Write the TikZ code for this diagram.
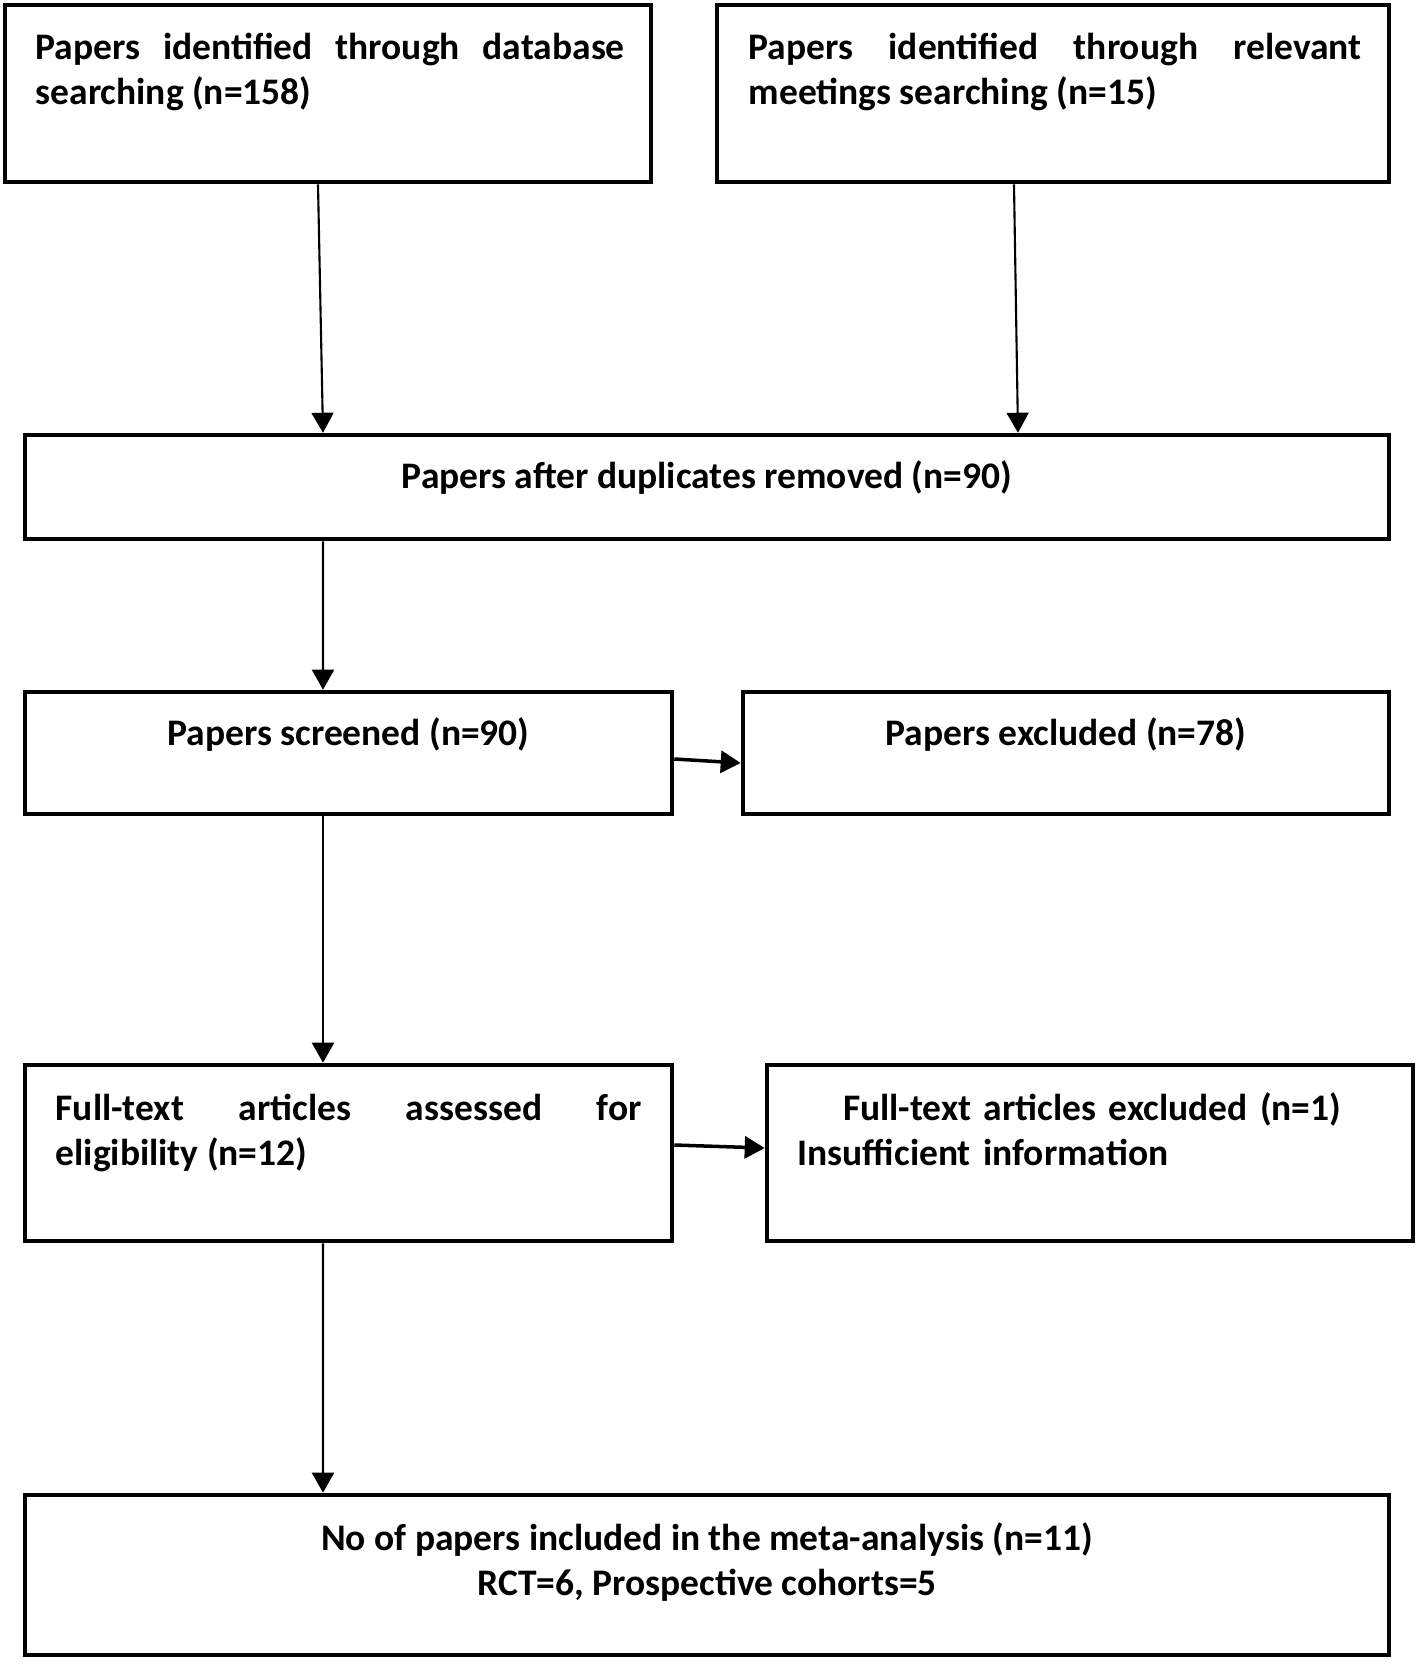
\documentclass[tikz,border=0pt]{standalone}
\usepackage{fontspec}
\setmainfont{Carlito}
\usetikzlibrary{arrows.meta,positioning,calc}

\begin{document}
\begin{tikzpicture}[
    box/.style={draw, line width=1.3pt, inner sep=0pt},
    txt/.style={inner sep=0pt, font=\fontsize{10.67pt}{12.8pt}\selectfont\bfseries,
        execute at begin node={\tolerance=10000\hyphenpenalty=10000\exhyphenpenalty=10000}},
    arr/.style={-{Triangle[width=0.22cm,length=0.2cm]}, line width=0.6pt},
    sidearr/.style={arr, line width=1pt}]
\useasboundingbox (0,0) rectangle (14.18,-16.62);
\begin{scope}
% boxes
\node[box, minimum width=6.46cm, minimum height=1.77cm] (db) at (3.28,-0.935) {};
\node[box, minimum width=6.72cm, minimum height=1.77cm] (mt) at (10.53,-0.935) {};
\node[box, minimum width=13.64cm, minimum height=1.04cm] (dup) at (7.07,-4.87) {};
\node[box, minimum width=6.47cm, minimum height=1.22cm] (scr) at (3.485,-7.53) {};
\node[box, minimum width=6.46cm, minimum height=1.22cm] (exc) at (10.66,-7.53) {};
\node[box, minimum width=6.47cm, minimum height=1.76cm] (ft) at (3.485,-11.53) {};
\node[box, minimum width=6.46cm, minimum height=1.76cm] (fte) at (10.90,-11.53) {};
\node[box, minimum width=13.64cm, minimum height=1.60cm] (inc) at (7.07,-15.75) {};

% texts
\node[txt, anchor=north west, text width=5.89cm, align=justify] (dbtext) at (0.35,-0.32)
    {Papers identified through database searching (n=158)};
\node[txt, anchor=north west, text width=6.13cm, align=justify] (mttext) at (7.48,-0.32)
    {Papers identified through relevant meetings searching (n=15)};
\node[txt, anchor=base] (duptext) at (7.07,-4.88) {Papers after duplicates removed (n=90)};
\node[txt, anchor=base] (scrtext) at (3.485,-7.45) {Papers screened (n=90)};
\node[txt, anchor=base] (exctext) at (10.66,-7.45) {Papers excluded (n=78)};
\node[txt, anchor=north west, text width=5.86cm, align=justify] (fttext) at (0.55,-10.93)
    {Full-text articles assessed for eligibility (n=12)};
\node[txt, anchor=north west, text width=5.89cm, align=left] (ftetext) at (7.97,-10.92)
    {{\centering Full-text articles excluded (n=1)\par}Insufficient information};
\node[txt, anchor=north, align=center] (inctext) at (7.07,-15.22)
    {No of papers included in the meta-analysis (n=11)\\RCT=6, Prospective cohorts=5};

% connectors
\draw[arr] ([xshift=-0.10cm]db.south) -- ([xshift=-3.84cm]dup.north);
\draw[arr] ([xshift=-0.39cm]mt.south) -- ([xshift=3.11cm]dup.north);
\draw[arr] ([xshift=-3.84cm]dup.south) -- ([xshift=-0.255cm]scr.north);
\draw[sidearr] ([yshift=-0.06cm]scr.east) -- ([yshift=-0.10cm]exc.west);
\draw[arr] ([xshift=-0.255cm]scr.south) -- ([xshift=-0.255cm]ft.north);
\draw[sidearr] ([yshift=0.08cm]ft.east) -- ([yshift=0.05cm]fte.west);
\draw[arr] ([xshift=-0.255cm]ft.south) -- ([xshift=-3.84cm]inc.north);
\end{scope}
\end{tikzpicture}
\end{document}
